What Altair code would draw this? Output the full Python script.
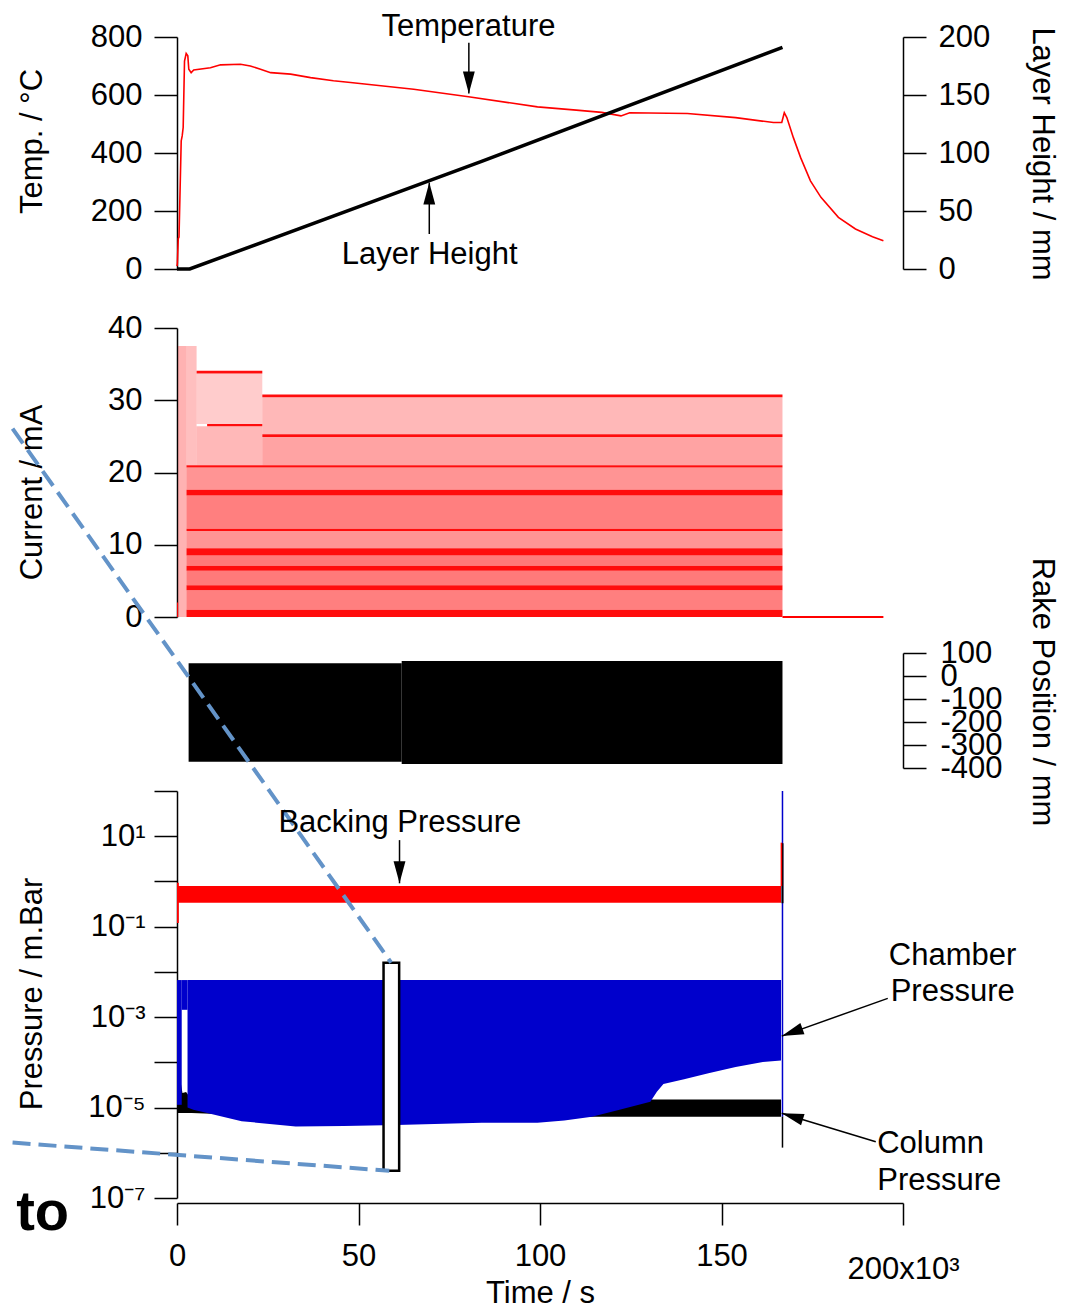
import altair as alt
import pandas as pd

FONT = "Liberation Sans"
FS = 31
W = 726
H_TEMP, H_CUR, H_RAKE, H_PRES = 232, 289, 115, 407
GAP_12, GAP_23, GAP_34 = 59, 36, 23
XDOM = [0, 200000]

# ---------------- Temperature / layer height ----------------
TEMP_T = [0, 100, 350, 550, 1160, 1430, 1700, 2070, 2530, 2980, 3250, 3900, 4600,
          9200, 12000, 17500, 20200, 23000, 25800, 31300, 36800, 43100, 47800,
          65200, 80300, 99300, 110000, 117000, 122300, 124700, 140600, 153900, 164300, 166600,
          167300, 168000, 169800, 171800, 174500, 177400, 182200, 186900, 191600, 194600]
TEMP_C = [10, 20, 105, 110, 442, 459, 488, 717, 743, 735, 689, 677, 686,
          694, 704, 706, 700, 689, 677, 672, 660, 649, 643,
          620, 594, 559, 548, 540, 528, 539, 536, 522, 505, 505,
          539, 522, 453, 384, 304, 247, 178, 138, 111, 97]
LAYER_T = [0, 3500, 84100, 166800]
LAYER_MM = [0, 0, 93, 191]

ANN1_LABEL = ["Temperature", "Layer Height"]
ANN1_T = [80300, 69600]
ANN1_C = [803.8, 17.2]
ARR1_T = [80400, 69500]
ARR1_TAIL = [780, 120.6]
ARR1_TIP = [605, 298]
ARR1_ANGLE = [180, 0]

# ---------------- Current ----------------
CUR_LINE_T0 = [0, 5400, 8300, 23500, 23500, 2600, 2600, 2600, 2600, 2600, 2600, 2600]
CUR_LINE_T1 = [300, 23500, 23500, 166800, 166800, 166800, 166800, 166800, 166800, 166800, 166800, 166800]
CUR_LINE_LO = [0.0, 33.7, 26.4, 30.4, 24.9, 20.7, 16.8, 11.9, 8.5, 6.4, 3.7, 0.0]
CUR_LINE_HI = [2.0, 34.1, 26.7, 30.8, 25.3, 21.0, 17.6, 12.2, 9.5, 7.1, 4.4, 1.0]

CUR_BAND_T0 = [300, 2600, 5400, 5400, 23500, 23500, 2600, 2600, 2600, 2600, 2600, 2600]
CUR_BAND_T1 = [2600, 5400, 23500, 23500, 166800, 166800, 166800, 166800, 166800, 166800, 166800, 166800]
CUR_BAND_LO = [0.0, 21.0, 26.7, 21.0, 25.3, 21.0, 17.6, 12.2, 9.5, 7.1, 4.4, 1.0]
CUR_BAND_HI = [37.5, 37.5, 33.7, 26.4, 30.4, 24.9, 20.7, 16.8, 11.9, 8.5, 6.4, 3.7]
CUR_BAND_DENSITY = [0.3, 0.25, 0.2, 0.28, 0.28, 0.36, 0.42, 0.5, 0.42, 0.52, 0.52, 0.5]

CUR_OFF_T = [166800, 194600]
CUR_OFF_MA = [0, 0]

# ---------------- Rake ----------------
RAKE_T0 = [3200, 61900]
RAKE_T1 = [61900, 166800]
RAKE_LO = [-373, -383]
RAKE_HI = [55, 65]

# ---------------- Pressure ----------------
P_TICKS = [1e-7, 1e-6, 1e-5, 1e-4, 1e-3, 1e-2, 1e-1, 1e0, 1e1, 1e2]
P_TICK_LABELS = ["10⁻⁷", "", "10⁻⁵", "", "10⁻³", "", "10⁻¹", "", "10¹", ""]

BACK_T0 = [0, 0]
BACK_T1 = [166400, 500]
BACK_LO = [0.339, 0.12]
BACK_HI = [0.794, 0.93]

CHAMBER_TOP = 6.6e-3
CH_T = [0, 1300, 1300, 2900, 2900, 4500, 8300, 17800, 32700, 46000, 60500, 84000, 99300,
        106700, 114300, 121900, 130400, 132200, 134000, 139700, 146400, 153900, 161400, 166400]
CH_LO = [1.15e-5, 1.15e-5, 1.45e-3, 1.45e-3, 1.0e-5, 8.9e-6, 7.6e-6, 5.0e-6, 3.8e-6, 3.9e-6, 4.1e-6, 4.6e-6, 4.6e-6,
         5.2e-6, 6.3e-6, 8.9e-6, 1.35e-5, 2.24e-5, 3.3e-5, 4.2e-5, 5.75e-5, 7.9e-5, 1.02e-4, 1.10e-4]
CH_SEG = [1, 1, 2, 2] + [3] * 20

COL_T = [0, 1000, 1500, 2500, 4000, 30000, 166400]
COL_HI = [1.6e-5, 3.7e-5, 2.1e-5, 2.2e-5, 1.5e-5, 1.5e-5, 1.5e-5]
COL_LO = [7.6e-6, 7.6e-6, 7.6e-6, 7.6e-6, 7.6e-6, 6.3e-6, 6.3e-6]

VR_T = [166800, 166800, 166800, 166500]
VR_TOP = [100, 7.0, 6.3e-6, 7.2]
VR_BOT = [6.3e-6, 0.33, 1.3e-6, 0.79]
VR_COLOR = ["#0000cc", "black", "black", "#ff0000"]
VR_WIDTH = [1.5, 2, 1.5, 1.5]

BOX_T0, BOX_T1, BOX_TOP, BOX_BOT = [56900], [61200], [1.6e-2], [4.0e-7]

DASH_T0 = [-45300, -45300]
DASH_P0 = [1.03e10, 1.68e-6]
DASH_T1 = [59000, 58500]
DASH_P1 = [1.6e-2, 4.0e-7]

ANN4C_LABEL = ["Backing Pressure"]
ANN4C_T = [61400]
ANN4C_P = [12.6]
ANN4L_LABEL = ["Chamber", "Pressure", "Column", "Pressure"]
ANN4L_T = [196100, 196600, 192900, 192900]
ANN4L_P = [1.42e-2, 2.31e-3, 9.7e-7, 1.5e-7]

ARR4_TT = [61300, 195800, 192500]
ARR4_TP = [8.2, 2.6e-3, 1.76e-6]
ARR4_HT = [61300, 166600, 166600]
ARR4_HP = [0.91, 3.8e-4, 7.5e-6]
ARR4_ANGLE = [180, 250, 287]

TO_T, TO_P, TO_LABEL = [-44300], [1.96e-8], ["to"]

HEAD = "M0,0L-0.27,1L0.27,1Z"
HEAD_SIZE = 1936

# ---------------- helpers ----------------
def xscale():
    return alt.Scale(domain=XDOM, nice=False, zero=False)


def X(field, axis=None):
    return alt.X(f"{field}:Q", scale=xscale(), axis=axis)


def left_title(title, ty):
    return dict(title=title, titleX=-144.5, titleY=ty, titleAngle=-90,
                titleBaseline="middle", titleAlign="center")


def right_title(title, ty):
    return dict(title=title, titleX=138, titleY=ty, titleAngle=90,
                titleBaseline="middle", titleAlign="center")


# ---------------- panel 1 ----------------
temp_df = pd.DataFrame({"t": TEMP_T, "v": TEMP_C})
layer_df = pd.DataFrame({"t": LAYER_T, "v": LAYER_MM})
ann1_df = pd.DataFrame({"t": ANN1_T, "v": ANN1_C, "label": ANN1_LABEL})
arr1_df = pd.DataFrame({"t": ARR1_T, "tail": ARR1_TAIL, "tip": ARR1_TIP, "ang": ARR1_ANGLE})

tscale = alt.Scale(domain=[0, 800], nice=False, zero=False)
taxis = alt.Axis(values=[0, 200, 400, 600, 800], **left_title("Temp. / °C", 104))
temp_line = alt.Chart(temp_df).mark_line(color="#ff0000", strokeWidth=1.6).encode(
    x=X("t"), y=alt.Y("v:Q", scale=tscale, axis=taxis))
ann1 = alt.Chart(ann1_df).mark_text(font=FONT, fontSize=FS, align="center", baseline="alphabetic",
                                    color="black").encode(
    x=X("t"), y=alt.Y("v:Q", scale=tscale, axis=taxis), text="label:N")
shaft1 = alt.Chart(arr1_df).mark_rule(color="black", strokeWidth=1.5).encode(
    x=X("t"), y=alt.Y("tail:Q", scale=tscale, axis=taxis), y2="tip:Q")
head1 = alt.Chart(arr1_df).mark_point(shape=HEAD, filled=True, size=HEAD_SIZE, opacity=1,
                                      color="black", strokeWidth=0).encode(
    x=X("t"), y=alt.Y("tip:Q", scale=tscale, axis=taxis), angle=alt.Angle("ang:Q", scale=None))
layer_line = alt.Chart(layer_df).mark_line(color="black", strokeWidth=3.5).encode(
    x=X("t"),
    y=alt.Y("v:Q", scale=alt.Scale(domain=[0, 200], nice=False, zero=False),
            axis=alt.Axis(orient="right", values=[0, 50, 100, 150, 200],
                          **right_title("Layer Height / mm", 116.5))),
)
p1 = alt.layer(alt.layer(temp_line, ann1, shaft1, head1), layer_line).resolve_scale(
    y="independent").properties(width=W, height=H_TEMP)

# ---------------- panel 2 ----------------
cscale = alt.Scale(domain=[0, 40], nice=False, zero=False)
caxis = alt.Axis(values=[0, 10, 20, 30, 40], **left_title("Current / mA", 164))
band_df = pd.DataFrame({"t0": CUR_BAND_T0, "t1": CUR_BAND_T1, "lo": CUR_BAND_LO,
                        "hi": CUR_BAND_HI, "dens": CUR_BAND_DENSITY})
line_df = pd.DataFrame({"t0": CUR_LINE_T0, "t1": CUR_LINE_T1, "lo": CUR_LINE_LO, "hi": CUR_LINE_HI})
off_df = pd.DataFrame({"t": CUR_OFF_T, "v": CUR_OFF_MA})

bands = alt.Chart(band_df).mark_rect(color="#ff0000").encode(
    x=X("t0"), x2="t1", y=alt.Y("lo:Q", scale=cscale, axis=caxis),
    y2="hi", opacity=alt.Opacity("dens:Q", scale=None))
dense = alt.Chart(line_df).mark_rect(color="#ff0000", opacity=0.95).encode(
    x=X("t0"), x2="t1", y=alt.Y("lo:Q", scale=cscale, axis=caxis), y2="hi")
off = alt.Chart(off_df).mark_line(color="#ff0000", strokeWidth=2).encode(
    x=X("t"), y=alt.Y("v:Q", scale=cscale, axis=caxis))
p2 = alt.layer(bands, dense, off).properties(width=W, height=H_CUR)

# ---------------- panel 3 ----------------
rake_df = pd.DataFrame({"t0": RAKE_T0, "t1": RAKE_T1, "lo": RAKE_LO, "hi": RAKE_HI})
p3 = alt.Chart(rake_df).mark_rect(color="black").encode(
    x=X("t0"), x2="t1",
    y=alt.Y("lo:Q", scale=alt.Scale(domain=[-400, 100], nice=False, zero=False),
            axis=alt.Axis(orient="right", values=[-400, -300, -200, -100, 0, 100],
                          labelExpr="'' + datum.value", labelPadding=14,
                          **right_title("Rake Position / mm", 38.5))),
    y2="hi").properties(width=W, height=H_RAKE)

# ---------------- panel 4 ----------------
pscale = alt.Scale(type="log", domain=[1e-7, 100], nice=False)
plabels = "[" + ",".join(f"'{s}'" for s in P_TICK_LABELS) + "]"
p_axis = alt.Axis(values=P_TICKS, labelExpr=f"{plabels}[round(log(datum.value)/LN10) + 7]",
                  labelPadding=9, **left_title("Pressure / m.Bar", 202.5))
x_axis = alt.Axis(values=[0, 50000, 100000, 150000, 200000],
                  labelExpr="datum.value == 200000 ? '200x10³' : format(datum.value / 1000, 'd')",
                  title="Time / s", titleX=W / 2, titleY=75, titleBaseline="top", titleAngle=0,
                  offset=5, tickSize=22,
                  labelPadding={"condition": {"test": "datum.value == 200000", "value": 29}, "value": 16})


def PX(field):
    return alt.X(f"{field}:Q", scale=xscale(), axis=x_axis)


def PY(field):
    return alt.Y(f"{field}:Q", scale=pscale, axis=p_axis)


col_df = pd.DataFrame({"t": COL_T, "hi": COL_HI, "lo": COL_LO})
ch_df = pd.DataFrame({"t": CH_T, "lo": CH_LO, "seg": CH_SEG})
ch_df["hi"] = CHAMBER_TOP
back_df = pd.DataFrame({"t0": BACK_T0, "t1": BACK_T1, "lo": BACK_LO, "hi": BACK_HI})
vr_df = pd.DataFrame({"t": VR_T, "top": VR_TOP, "bot": VR_BOT, "col": VR_COLOR, "w": VR_WIDTH})
box_df = pd.DataFrame({"t0": BOX_T0, "t1": BOX_T1, "top": BOX_TOP, "bot": BOX_BOT})
dash_df = pd.DataFrame({"t0": DASH_T0, "p0": DASH_P0, "t1": DASH_T1, "p1": DASH_P1})
ann4c_df = pd.DataFrame({"t": ANN4C_T, "p": ANN4C_P, "label": ANN4C_LABEL})
ann4l_df = pd.DataFrame({"t": ANN4L_T, "p": ANN4L_P, "label": ANN4L_LABEL})
arr4_df = pd.DataFrame({"tt": ARR4_TT, "tp": ARR4_TP, "ht": ARR4_HT, "hp": ARR4_HP, "ang": ARR4_ANGLE})
to_df = pd.DataFrame({"t": TO_T, "p": TO_P, "label": TO_LABEL})

col_area = alt.Chart(col_df).mark_area(color="black", opacity=1).encode(
    x=PX("t"), y=PY("hi"), y2="lo")
ch_area = alt.Chart(ch_df).mark_area(color="#0000cc", opacity=1).encode(
    x=PX("t"), y=PY("hi"), y2="lo", detail="seg:N")
back = alt.Chart(back_df).mark_rect(color="#ff0000", opacity=1).encode(
    x=PX("t0"), x2="t1", y=PY("hi"), y2="lo")
vrules = alt.Chart(vr_df).mark_rule().encode(
    x=PX("t"), y=PY("top"), y2="bot",
    color=alt.Color("col:N", scale=None), strokeWidth=alt.StrokeWidth("w:Q", scale=None))
box = alt.Chart(box_df).mark_rect(fill="white", stroke="black", strokeWidth=2.5, opacity=1).encode(
    x=PX("t0"), x2="t1", y=PY("top"), y2="bot")
dashes = alt.Chart(dash_df).mark_rule(color="#6393c8", strokeWidth=4, strokeDash=[18, 8]).encode(
    x=PX("t0"), x2="t1", y=PY("p0"), y2="p1")
ann4c = alt.Chart(ann4c_df).mark_text(font=FONT, fontSize=FS, align="center", baseline="alphabetic",
                                      color="black").encode(
    x=PX("t"), y=PY("p"), text="label:N")
ann4l = alt.Chart(ann4l_df).mark_text(font=FONT, fontSize=FS, align="left", baseline="alphabetic",
                                      color="black").encode(
    x=PX("t"), y=PY("p"), text="label:N")
shaft4 = alt.Chart(arr4_df).mark_rule(color="black", strokeWidth=1.5).encode(
    x=PX("tt"), x2="ht", y=PY("tp"), y2="hp")
head4 = alt.Chart(arr4_df).mark_point(shape=HEAD, filled=True, size=HEAD_SIZE, opacity=1,
                                      color="black", strokeWidth=0).encode(
    x=PX("ht"), y=PY("hp"), angle=alt.Angle("ang:Q", scale=None))
to_text = alt.Chart(to_df).mark_text(font=FONT, fontSize=56, fontWeight="bold", align="left",
                                     baseline="alphabetic", color="black").encode(
    x=PX("t"), y=PY("p"), text="label:N")

p4 = alt.layer(col_area, ch_area, back, vrules, box, dashes, ann4c, ann4l, shaft4, head4,
               to_text).properties(width=W, height=H_PRES)

# ---------------- spacers & assembly ----------------
SPACER = pd.DataFrame({"a": [0]})


def spacer(h):
    return alt.Chart(SPACER).mark_point(opacity=0).encode(
        x=X("a"), y=alt.Y("a:Q", axis=None)).properties(width=W, height=h)


chart = alt.vconcat(p1, spacer(GAP_12), p2, spacer(GAP_23), p3, spacer(GAP_34), p4,
                    spacing=0, bounds="flush").resolve_scale(
    x="independent", y="independent").properties(
    padding={"left": 2, "top": 2, "right": 0, "bottom": -4}
).configure_axis(
    domainColor="black", domainWidth=1.5, tickColor="black", tickWidth=1.5, tickSize=23,
    labelFont=FONT, labelFontSize=FS, labelColor="black", labelPadding=12,
    labelOverlap=False, labelFlush=False,
    titleFont=FONT, titleFontSize=FS, titleFontWeight="normal", titleColor="black", grid=False,
).configure_view(strokeWidth=0)

chart.save("out.html", embed_options={"renderer": "svg", "actions": False})
